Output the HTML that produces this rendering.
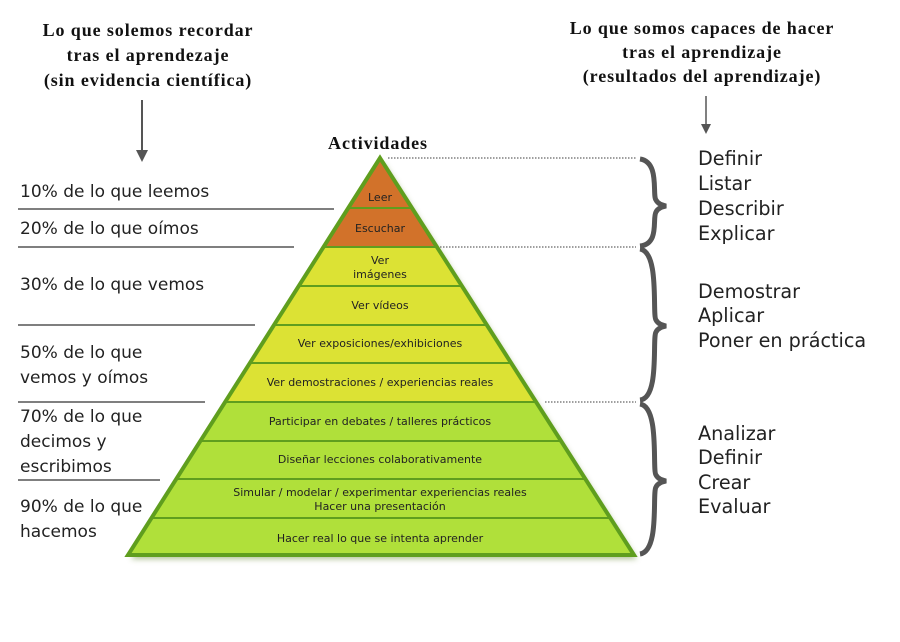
<!DOCTYPE html>
<html><head><meta charset="utf-8"><style>
body{margin:0;background:#fff;}
</style></head><body>
<svg width="900" height="637" xmlns="http://www.w3.org/2000/svg">
<defs><filter id="sh" x="-10%" y="-10%" width="120%" height="120%"><feGaussianBlur stdDeviation="3"/></filter>
<clipPath id="tri"><polygon points="380,158 128,555 634,555"/></clipPath></defs>
<g font-family="Liberation Serif, serif" font-weight="bold" font-size="18" letter-spacing="0.9" text-anchor="middle" fill="#111">
<text x="148" y="36">Lo que solemos recordar</text>
<text x="148" y="61">tras el aprendezaje</text>
<text x="148" y="86">(sin evidencia científica)</text>
<text x="702" y="34">Lo que somos capaces de hacer</text>
<text x="702" y="58">tras el aprendizaje</text>
<text x="702" y="82">(resultados del aprendizaje)</text>
<text x="378" y="149">Actividades</text>
</g>
<line x1="142" y1="100" x2="142" y2="158" stroke="#555" stroke-width="2"/>
<polygon points="136,150 148,150 142,162" fill="#555"/>
<line x1="706" y1="96" x2="706" y2="130" stroke="#555" stroke-width="1.5"/>
<polygon points="701,124 711,124 706,134" fill="#555"/>
<polygon points="380,158 128,555 634,555" fill="#7a9a50" opacity="0.6" filter="url(#sh)" transform="translate(3,4)"/>
<g clip-path="url(#tri)">
<rect x="100" y="150" width="600" height="97" fill="#d2722a"/>
<rect x="100" y="247" width="600" height="155" fill="#dce234"/>
<rect x="100" y="402" width="600" height="160" fill="#b0e03a"/>
<g stroke="#5f9e1e" stroke-width="2">
<line x1="100" y1="208" x2="700" y2="208"/><line x1="100" y1="247" x2="700" y2="247"/>
<line x1="100" y1="286" x2="700" y2="286"/><line x1="100" y1="325" x2="700" y2="325"/>
<line x1="100" y1="363" x2="700" y2="363"/><line x1="100" y1="402" x2="700" y2="402"/>
<line x1="100" y1="441" x2="700" y2="441"/><line x1="100" y1="479" x2="700" y2="479"/>
<line x1="100" y1="518" x2="700" y2="518"/></g>
</g>
<polygon points="380,158 128,555 634,555" fill="none" stroke="#5f9e1e" stroke-width="4" stroke-linejoin="miter"/>
<g font-family="DejaVu Sans, sans-serif" font-size="11" text-anchor="middle" fill="#222">
<text x="380" y="201">Leer</text>
<text x="380" y="232">Escuchar</text>
<text x="380" y="264">Ver</text><text x="380" y="278">imágenes</text>
<text x="380" y="309">Ver vídeos</text>
<text x="380" y="347">Ver exposiciones/exhibiciones</text>
<text x="380" y="386">Ver demostraciones / experiencias reales</text>
<text x="380" y="425">Participar en debates / talleres prácticos</text>
<text x="380" y="463">Diseñar lecciones colaborativamente</text>
<text x="380" y="496">Simular / modelar / experimentar experiencias reales</text>
<text x="380" y="510">Hacer una presentación</text>
<text x="380" y="542">Hacer real lo que se intenta aprender</text>
</g>
<g stroke="#555" stroke-width="1.5">
<line x1="18" y1="209" x2="334" y2="209"/><line x1="18" y1="247" x2="294" y2="247"/>
<line x1="18" y1="325" x2="255" y2="325"/><line x1="18" y1="402" x2="205" y2="402"/>
<line x1="18" y1="480" x2="160" y2="480"/></g>
<g stroke="#666" stroke-width="1.2" stroke-dasharray="1.5,1.5">
<line x1="388" y1="158" x2="636" y2="158"/><line x1="440" y1="247" x2="636" y2="247"/>
<line x1="545" y1="402" x2="636" y2="402"/></g>
<g fill="none" stroke="#555" stroke-width="5">
<path d="M640,159 C660,162 652,195 656,200 C658,204 662,205 666,206 C662,207 658,208 656,212 C652,218 660,244 640,246"/>
<path d="M640,249 C660,252 652,315 656,320 C658,324 662,325 666,326 C662,327 658,328 656,332 C652,338 660,398 640,400"/>
<path d="M640,404 C660,407 652,470 656,475 C658,479 662,480 666,481 C662,482 658,483 656,487 C652,493 660,551 640,554"/>
</g>
<g font-family="DejaVu Sans, sans-serif" font-size="17" fill="#222">
<text x="20" y="197">10% de lo que leemos</text>
<text x="20" y="234">20% de lo que oímos</text>
<text x="20" y="290">30% de lo que vemos</text>
<text x="20" y="358">50% de lo que</text><text x="20" y="383">vemos y oímos</text>
<text x="20" y="422">70% de lo que</text><text x="20" y="447">decimos y</text><text x="20" y="472">escribimos</text>
<text x="20" y="512">90% de lo que</text><text x="20" y="537">hacemos</text>
</g>
<g font-family="DejaVu Sans, sans-serif" font-size="19.2" fill="#222">
<text x="698" y="165">Definir</text><text x="698" y="190">Listar</text>
<text x="698" y="215">Describir</text><text x="698" y="240">Explicar</text>
<text x="698" y="298">Demostrar</text><text x="698" y="322">Aplicar</text>
<text x="698" y="347">Poner en práctica</text>
<text x="698" y="440">Analizar</text><text x="698" y="464">Definir</text>
<text x="698" y="489">Crear</text><text x="698" y="513">Evaluar</text>
</g>
</svg>
</body></html>
